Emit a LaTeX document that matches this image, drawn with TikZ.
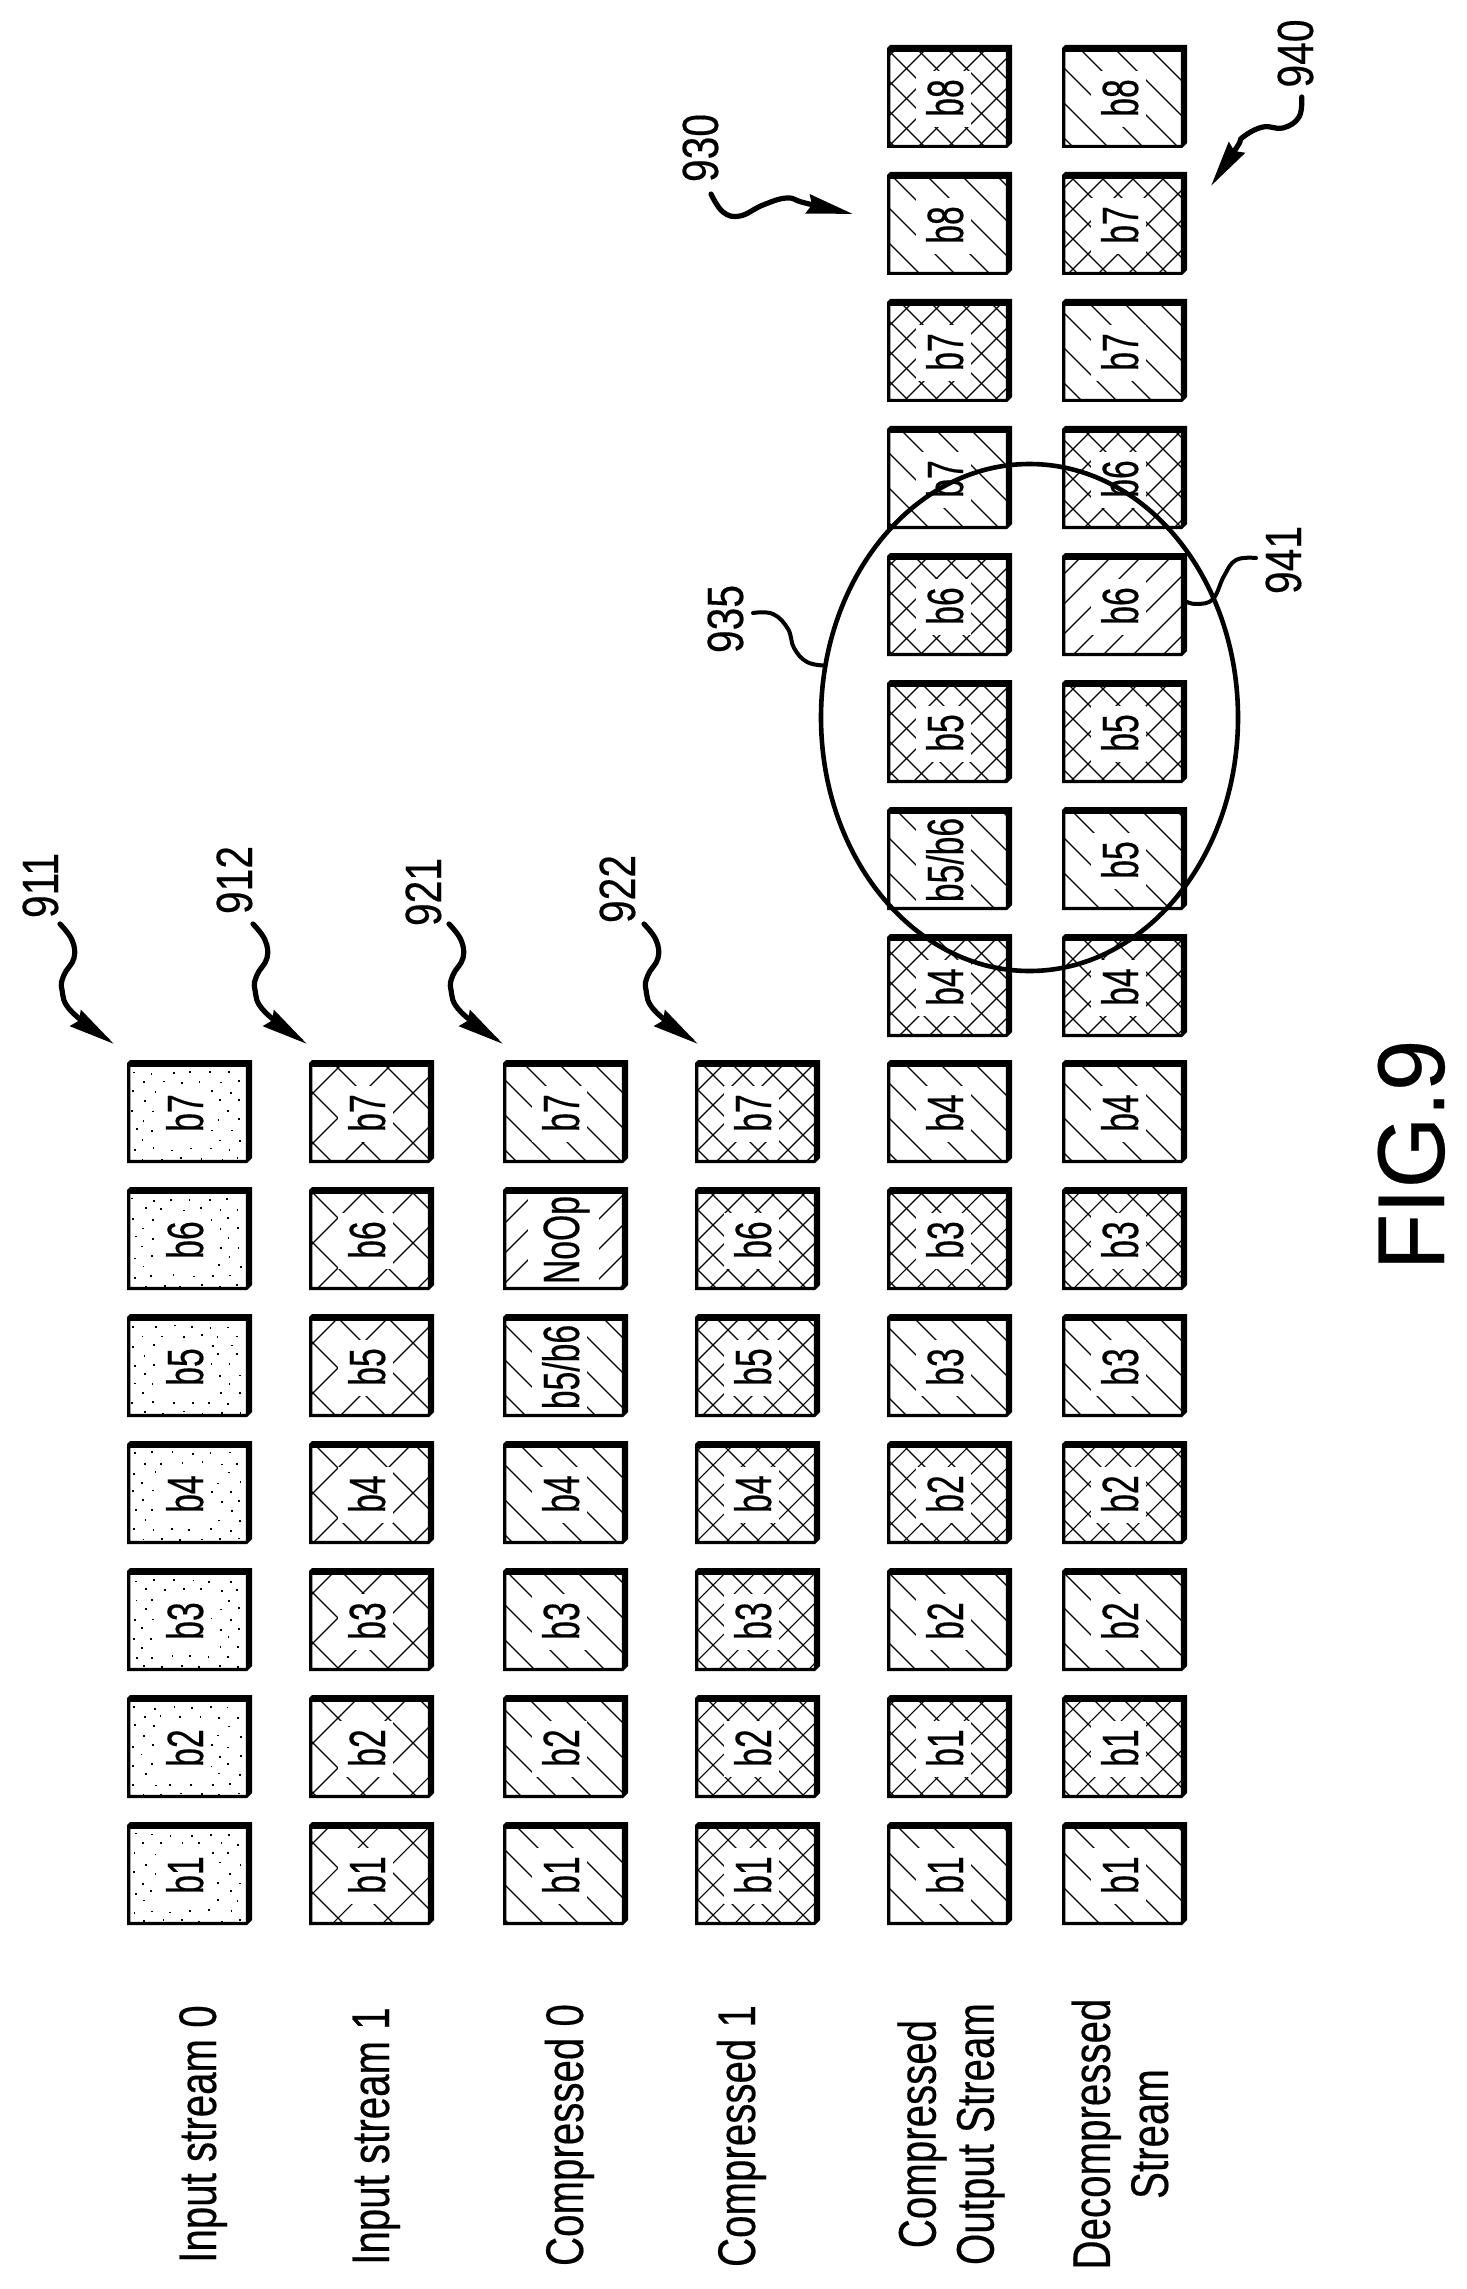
\documentclass[tikz,border=0pt]{standalone}
\usepackage{fontspec}
\usetikzlibrary{arrows.meta}
\newfontfamily\boxfont[FakeStretch=0.66,FakeBold=0.35]{Liberation Sans}
\newfontfamily\lblfont[FakeStretch=0.76,FakeBold=0.3]{Liberation Sans}
\newfontfamily\numfont[FakeStretch=0.80,FakeBold=0.3]{Liberation Sans}
\newfontfamily\figfont[FakeStretch=0.97,FakeBold=0.3]{Liberation Sans}
\tikzset{
  hatchline/.style={line width=0.55pt,black},
  boxtext/.style={rotate=90,anchor=base,inner sep=0pt,font=\boxfont\fontsize{25.5}{25.5}\selectfont},
  lbl/.style={rotate=90,anchor=base,inner sep=0pt,font=\lblfont\fontsize{26.5}{29}\selectfont},
  lbltwo/.style={rotate=90,anchor=center,inner sep=0pt,align=center,font=\lblfont\fontsize{26.5}{29}\selectfont},
  refnum/.style={rotate=90,anchor=base,inner sep=0pt,font=\numfont\fontsize{25.5}{25.5}\selectfont},
  figlbl/.style={rotate=90,anchor=base,inner sep=0pt,font=\figfont\fontsize{47.5}{47.5}\selectfont},
  leadarrow/.style={line width=2.6pt,line cap=round,-{Stealth[length=23pt,width=9.5pt,inset=2pt]}},
  leadline/.style={line width=2pt,line cap=round},
  ring/.style={line width=2.3pt,black},
}
% '\' lines: X-Y = c mod m ; '/' lines: X+Y = c mod m (absolute pixel coordinates)
\newcommand\hatchB[2]{%
  \pgfmathsetmacro\ubase{Mod(#2-\cx+\cy,#1)}%
  \foreach \k in {-4,...,5}{\draw[hatchline] ({\ubase+\k*#1},0) -- ({\ubase+\k*#1+112},112);}}
\newcommand\hatchF[2]{%
  \pgfmathsetmacro\vbase{Mod(#2-\cx-\cy,#1)}%
  \foreach \k in {-1,...,8}{\draw[hatchline] ({\vbase+\k*#1},0) -- ({\vbase+\k*#1-112},112);}}
\newcommand\dotsP{%
  \foreach \j in {0,...,9}{\foreach \i in {0,...,6}{%
    \pgfmathsetmacro\dx{5+\i*19+mod(\j,2)*9.5+rnd*5}%
    \pgfmathsetmacro\dy{11+\j*9.6+rnd*3}%
    \fill[black] ({\dx-.9},{\dy-.9}) rectangle ({\dx+.9},{\dy+.9});}}}
\newcommand\pS{\hatchB{35}{20}}
\newcommand\pSb{\hatchB{35}{16}}
\newcommand\pSL{\hatchB{35}{20}\gdef\clrB{0}\gdef\clrD{110}}
\newcommand\pSbL{\hatchB{35}{16}\gdef\clrB{0}\gdef\clrD{110}}
\newcommand\pF{\hatchF{30}{18}}
\newcommand\pFL{\hatchF{30}{18}\gdef\clrA{25}\gdef\clrC{96}\gdef\clrB{0}\gdef\clrD{110}}
\newcommand\pX{\hatchB{50}{20}\hatchF{50}{6}}
\newcommand\pC{\hatchB{30}{28}\hatchF{30}{18}}
\newcommand\pCe{\hatchB{30}{28}\hatchF{30}{15}}
\newcommand\pCf{\hatchB{30}{24}\hatchF{30}{22}}
% #1 node name, #2 x0, #3 y0, #4 pattern, #5 text
\newcommand\cell[5]{%
  \begin{scope}[shift={(#2,#3)}]
    \def\cx{#2}\def\cy{#3}%
    \gdef\clrA{29}\gdef\clrB{26}\gdef\clrC{84}\gdef\clrD{82}%
    \begin{scope}
      \clip (3,7) rectangle (119,100);
      #4
    \end{scope}
    \fill[white] (\clrA,\clrB) rectangle (\clrC,\clrD);
    \fill[black,even odd rule] (3,0) -- (125,0) -- (125,98) -- (120,103) -- (0,103) -- (0,3) -- cycle
      (3.3,6.8) rectangle (118.8,99.8);
    \node[boxtext] (#1) at (76,53) {#5};
  \end{scope}}
\begin{document}
\begin{tikzpicture}[x=0.5pt,y=-0.5pt]
\useasboundingbox (0,0) rectangle (1466,2289);
\fill[white] (0,0) rectangle (1466,2289);
\pgfmathsetseed{7}
\def\bfs{b5/b6}
% --- column 1: Input stream 0
\foreach \yy/\tt in {1822/b1,1695/b2,1568/b3,1441/b4,1314/b5,1187/b6,1060/b7}
  {\cell{ca\tt}{127}{\yy}{\dotsP}{\tt}}
% --- column 2: Input stream 1
\foreach \yy/\tt in {1822/b1,1695/b2,1568/b3,1441/b4,1314/b5,1187/b6,1060/b7}
  {\cell{cb\tt}{309}{\yy}{\pX}{\tt}}
% --- column 3: Compressed 0
\foreach \yy/\tt/\pp/\nn in {1822/b1/\pS/1,1695/b2/\pS/2,1568/b3/\pS/3,1441/b4/\pS/4,1314/\bfs/\pSL/5,1187/NoOp/\pFL/6,1060/b7/\pS/7}
  {\cell{cc\nn}{503}{\yy}{\pp}{\tt}}
% --- column 4: Compressed 1
\foreach \yy/\tt in {1822/b1,1695/b2,1568/b3,1441/b4,1314/b5,1187/b6,1060/b7}
  {\cell{cd\tt}{695}{\yy}{\pC}{\tt}}
% --- column 5: Compressed Output Stream
\foreach \yy/\tt/\pp/\nn in {1822/b1/\pSb/1,1695/b1/\pCe/2,1568/b2/\pSb/3,1441/b2/\pCe/4,1314/b3/\pSb/5,1187/b3/\pCe/6,1060/b4/\pSb/7,934/b4/\pCe/8,807/\bfs/\pSbL/9,680/b5/\pCe/10,553/b6/\pCe/11,426/b7/\pSb/12,299/b7/\pCe/13,172/b8/\pSb/14,45/b8/\pCe/15}
  {\cell{ce\nn}{887}{\yy}{\pp}{\tt}}
% --- column 6: Decompressed Stream
\foreach \yy/\tt/\pp/\nn in {1822/b1/\pSb/1,1695/b1/\pCf/2,1568/b2/\pSb/3,1441/b2/\pCf/4,1314/b3/\pSb/5,1187/b3/\pCf/6,1060/b4/\pSb/7,934/b4/\pCf/8,807/b5/\pSb/9,680/b5/\pCf/10,553/b6/\pF/11,426/b6/\pCf/12,299/b7/\pSb/13,172/b7/\pCf/14,45/b8/\pSb/15}
  {\cell{cf\nn}{1062}{\yy}{\pp}{\tt}}
% --- row labels
\node[lbl] (l0) at (216,2134) {Input stream 0};
\node[lbl] (l1) at (389,2136) {Input stream 1};
\node[lbl] (l2) at (583,2135) {Compressed 0};
\node[lbl] (l3) at (755,2136) {Compressed 1};
\node[lbltwo] (l4) at (951,2134) {Compressed\\Output Stream};
\node[lbltwo] (l5) at (1120,2134) {Decompressed\\Stream};
\node[figlbl] (fig) at (1444,1155) {FIG.9};
% --- reference numerals
\node[refnum] (n911) at (58,885.5) {911};
\node[refnum] (n912) at (252,880) {912};
\node[refnum] (n921) at (441,892) {921};
\node[refnum] (n922) at (635,889) {922};
\node[refnum] (n930) at (718,148) {930};
\node[refnum] (n935) at (743,619) {935};
\node[refnum] (n940) at (1313,53.5) {940};
\node[refnum] (n941) at (1301,560) {941};
% --- leaders with arrowheads, rows 911..922
\foreach \nm/\off in {911/0,912/193,921/389,922/584}{
  \begin{scope}[shift={(\off,0)}]
    \coordinate (s\nm) at (60,924);
    \coordinate (t\nm) at (114,1044);
    \draw[leadarrow] plot[smooth,tension=0.7] coordinates {(s\nm) (72,940) (74,958) (64,975) (62,990) (72,1012) (t\nm)};
  \end{scope}}
\coordinate (s930) at (711,194);
\coordinate (t930) at (853,214);
\draw[leadarrow] plot[smooth,tension=0.7] coordinates {(s930) (723,212) (740,216) (763,205) (787,198) (805,203) (t930)};
\coordinate (s940) at (1301.7,97);
\coordinate (t940) at (1211,186);
\draw[leadarrow] plot[smooth,tension=0.7] coordinates {(s940) (1299,117) (1283,128) (1263,127) (1243,137) (1237,147) (t940)};
% --- grouping ellipse
\coordinate (ringc) at (1029.5,717.5);
\draw[ring] (ringc) ellipse [x radius=208.5, y radius=253.5];
\coordinate (s935) at (753,613);
\coordinate (t935) at (825.5,665.6);
\draw[leadline] plot[smooth,tension=0.7] coordinates {(s935) (773,614) (788,629) (794,648) (807,662) (t935)};
\coordinate (s941) at (1256,558);
\coordinate (t941) at (1187,602);
\draw[leadline] plot[smooth,tension=0.7] coordinates {(s941) (1236,560) (1224,576) (1213,599) (1197.5,604) (t941)};
\end{tikzpicture}
\end{document}
